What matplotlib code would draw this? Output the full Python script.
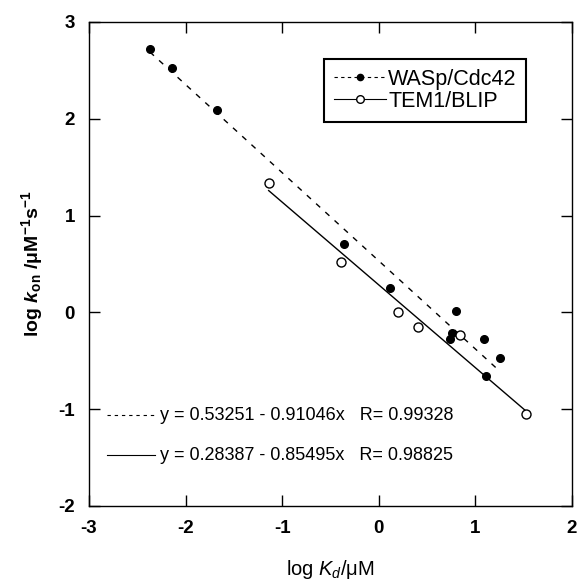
import numpy as np
import matplotlib
matplotlib.use("Agg")
import matplotlib.pyplot as plt

plt.rcParams['font.family'] = ['Liberation Sans', 'DejaVu Sans']
plt.rcParams['axes.unicode_minus'] = False
plt.rcParams['mathtext.fontset'] = 'custom'
plt.rcParams['mathtext.rm'] = 'Liberation Sans'
plt.rcParams['mathtext.it'] = 'Liberation Sans:italic'
plt.rcParams['mathtext.bf'] = 'Liberation Sans:bold'
plt.rcParams['mathtext.bfit'] = 'Liberation Sans:bold:italic'

# WASp/Cdc42 (filled)
wasp_logkd = [-2.37, -2.14, -1.67, -0.36, 0.12, 0.80, 0.76, 0.74, 1.09, 1.25, 1.11]
wasp_logkon = [2.72, 2.52, 2.09, 0.71, 0.25, 0.01, -0.21, -0.27, -0.27, -0.47, -0.66]

# TEM1/BLIP (open)
tem_logkd = [-1.14, -0.39, 0.20, 0.41, 0.84, 1.52]
tem_logkon = [1.34, 0.52, 0.00, -0.15, -0.23, -1.05]

# linear fits (from the figure)
wasp_fit = (0.53251, -0.91046, 0.99328)
tem_fit = (0.28387, -0.85495, 0.98825)

fig = plt.figure(figsize=(5.78, 5.84), dpi=100)
ax = fig.add_axes([89/578, 1 - 506/584, 483/578, 484/584])

# fit lines over the range of each data set
xw = np.array([min(wasp_logkd), max(wasp_logkd)])
xt = np.array([min(tem_logkd), max(tem_logkd)])
ax.plot(xw, wasp_fit[0] + wasp_fit[1]*xw, color='black', lw=1.0, dashes=(4, 5))
ax.plot(xt, tem_fit[0] + tem_fit[1]*xt, color='black', lw=1.0)

ax.plot(wasp_logkd, wasp_logkon, 'o', ms=5.5, mfc='black', mec='black', zorder=3)
ax.plot(tem_logkd, tem_logkon, 'o', ms=6.5, mfc='white', mec='black', mew=1.0, zorder=3)

# legend handles
h1, = ax.plot([], [], color='black', lw=0.8, dashes=(3, 3), marker='o', ms=4.5, mfc='black', mec='black')
h2, = ax.plot([], [], color='black', lw=0.8, marker='o', ms=5.5, mfc='white', mec='black')
leg = ax.legend([h1, h2], ['WASp/Cdc42', 'TEM1/BLIP'], loc='upper left',
                bbox_to_anchor=(0.487, 0.923), borderaxespad=0, fontsize=15.5,
                handlelength=2.4, handletextpad=0.12, labelspacing=0.05,
                borderpad=0.45, fancybox=False, framealpha=1)
leg.get_frame().set_edgecolor('black')
leg.get_frame().set_linewidth(1.5)

# equation annotations
ax.plot([0.037, 0.141], [0.188, 0.188], transform=ax.transAxes, color='black', lw=0.8, dashes=(3, 3.5))
ax.plot([0.037, 0.137], [0.105, 0.105], transform=ax.transAxes, color='black', lw=0.8)
ax.text(0.147, 0.188, 'y = %.5f - %.5fx   R= %.5f' % (wasp_fit[0], -wasp_fit[1], wasp_fit[2]),
        transform=ax.transAxes, fontsize=13, va='center')
ax.text(0.147, 0.105, 'y = %.5f - %.5fx   R= %.5f' % (tem_fit[0], -tem_fit[1], tem_fit[2]),
        transform=ax.transAxes, fontsize=13, va='center')

ax.set_xlim(-3, 2)
ax.set_ylim(-2, 3)
ax.set_xticks(np.arange(-3, 3, 1))
ax.set_yticks(np.arange(-2, 4, 1))
ax.tick_params(direction='in', length=8, width=1, top=True, right=True, pad=10, labelsize=13.5)
for lab in ax.get_xticklabels() + ax.get_yticklabels():
    lab.set_fontweight('bold')
for sp in ax.spines.values():
    sp.set_linewidth(1.0)

ax.set_xlabel(r'log $K_d$/μM', fontsize=14.5, labelpad=15)
ax.set_ylabel(r'$\mathbf{log}$ $\mathbfit{k}_{\mathbf{on}}$ $\mathbf{/μM^{-1}s^{-1}}$', fontsize=14, labelpad=10)

fig.savefig('out.png', dpi=100)
